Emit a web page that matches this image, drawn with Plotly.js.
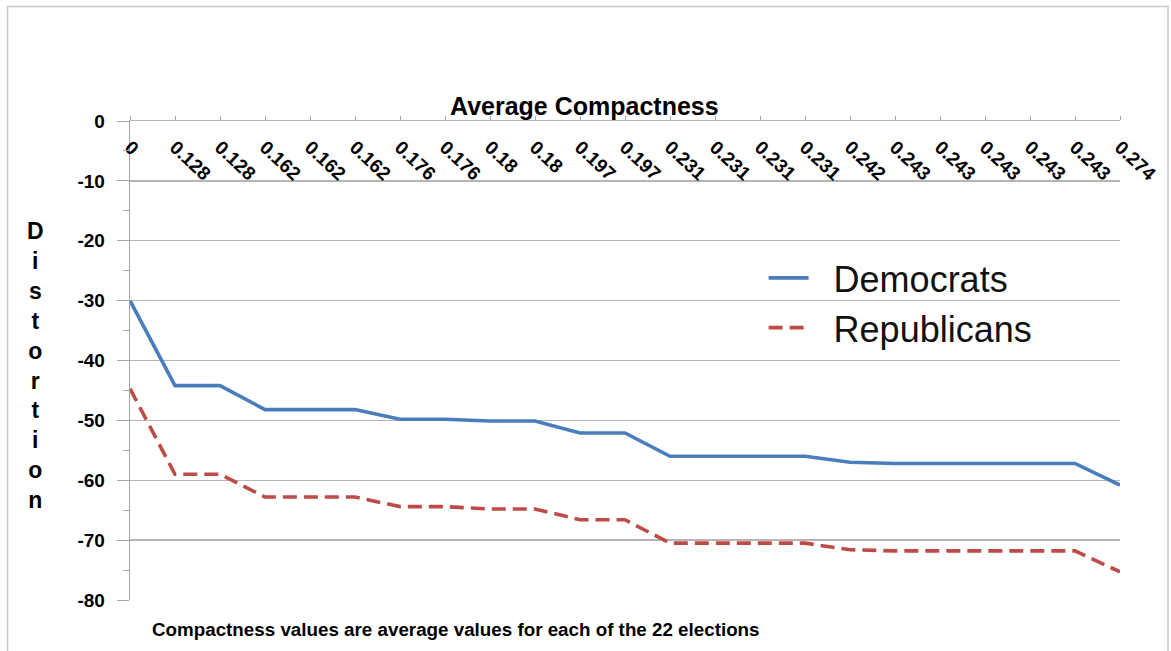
<!DOCTYPE html>
<html>
<head>
<meta charset="utf-8">
<script src="https://cdn.plot.ly/plotly-3.0.1.min.js"></script>
<style>
html,body{margin:0;padding:0;background:#fff;}
#chart{width:1171px;height:651px;}
</style>
</head>
<body>
<div id="chart"></div>
<script>
const compactnessLabels = ["0","0.128","0.128","0.162","0.162","0.162","0.176","0.176","0.18","0.18","0.197","0.197","0.231","0.231","0.231","0.231","0.242","0.243","0.243","0.243","0.243","0.243","0.274"];
const democrats = [-30,-44.2,-44.2,-48.2,-48.2,-48.2,-49.8,-49.8,-50.1,-50.1,-52.1,-52.1,-56,-56,-56,-56,-57,-57.2,-57.2,-57.2,-57.2,-57.2,-60.8];
const republicans = [-44.7,-59,-59,-62.8,-62.8,-62.8,-64.4,-64.4,-64.8,-64.8,-66.6,-66.6,-70.5,-70.5,-70.5,-70.5,-71.6,-71.8,-71.8,-71.8,-71.8,-71.8,-75.3];
const yTickValues = [0,-10,-20,-30,-40,-50,-60,-70,-80];
const yTickLabels = ["0","-10","-20","-30","-40","-50","-60","-70","-80"];
const positions = compactnessLabels.map((_, i) => i);

const traces = [
  {x: positions, y: democrats, name: "\u00a0\u00a0Democrats", type: "scatter", mode: "lines",
   line: {color: "#4a7ebb", width: 3.6}},
  {x: positions, y: republicans, name: "\u00a0\u00a0Republicans", type: "scatter", mode: "lines",
   line: {color: "#be4b48", width: 3.6, dash: "14px,7px"}}
];

const layout = {
  width: 1171, height: 651,
  margin: {l: 130, r: 51, t: 121, b: 51},
  paper_bgcolor: "#ffffff", plot_bgcolor: "#ffffff",
  font: {family: "Arial, 'Liberation Sans', sans-serif", color: "#000"},
  showlegend: true,
  legend: {x: 0.64, y: 0.735, xanchor: "left", yanchor: "top",
    font: {size: 36, family: "Arial, 'Liberation Sans', sans-serif", color: "#111"},
    bgcolor: "rgba(255,255,255,0)", itemwidth: 40, tracegroupgap: 0},
  xaxis: {
    side: "top", range: [0, 22], tickmode: "array", tickvals: positions, ticktext: compactnessLabels,
    tickangle: 43, ticklabelposition: "inside", ticklabeloverflow: "allow", ticklabelstandoff: 18,
    tickfont: {size: 19, family: "Arial, 'Liberation Sans', sans-serif", color: "#000", weight: "bold"},
    ticks: "outside", ticklen: 4, tickcolor: "#a6a6a6",
    showgrid: false, zeroline: false, showline: true, linecolor: "#b5b5b5", linewidth: 1.3, fixedrange: true
  },
  yaxis: {
    range: [-80, 0], tickmode: "array", tickvals: yTickValues, ticktext: yTickLabels,
    tickfont: {size: 19, family: "Arial, 'Liberation Sans', sans-serif", color: "#000", weight: "bold"},
    ticks: "outside", ticklen: 12, tickcolor: "#a6a6a6", ticklabelstandoff: 8,
    showgrid: true, gridcolor: "#b5b5b5", gridwidth: 1.3,
    showline: true, linecolor: "#a6a6a6", linewidth: 1.3,
    zeroline: false,
    minor: {tickvals: [-5,-15,-25,-35,-45,-55,-65,-75], ticks: "outside", ticklen: 6, tickcolor: "#a6a6a6", showgrid: false},
    fixedrange: true
  },
  annotations: [
    {text: "<b>Average Compactness</b>", xref: "paper", yref: "paper", x: (584-130)/990, y: (600-106)/479,
     xanchor: "center", yanchor: "middle", showarrow: false, font: {size: 25, color: "#000"}},
    {text: "<b>D<br>i<br>s<br>t<br>o<br>r<br>t<br>i<br>o<br>n</b>", xref: "paper", yref: "paper",
     x: (35-130)/990, y: (600-365)/479, xanchor: "center", yanchor: "middle", showarrow: false,
     font: {size: 23, color: "#000"}, align: "center"},
    {text: "<b>Compactness values are average values for each of the 22 elections</b>", xref: "paper", yref: "paper",
     x: (150-130)/990, y: (600-629)/479, xanchor: "left", yanchor: "middle", showarrow: false,
     font: {size: 18.8, color: "#000"}}
  ],
  shapes: [
    {type: "rect", xref: "paper", yref: "paper", x0: (7.5-130)/990, x1: (1168-130)/990,
     y0: (600-652)/479, y1: (600-6.5)/479, line: {color: "#c8c8c8", width: 1.5}, fillcolor: "rgba(0,0,0,0)", layer: "below"}
  ]
};

Plotly.newPlot("chart", traces, layout, {displayModeBar: false, staticPlot: true});
</script>
</body>
</html>
